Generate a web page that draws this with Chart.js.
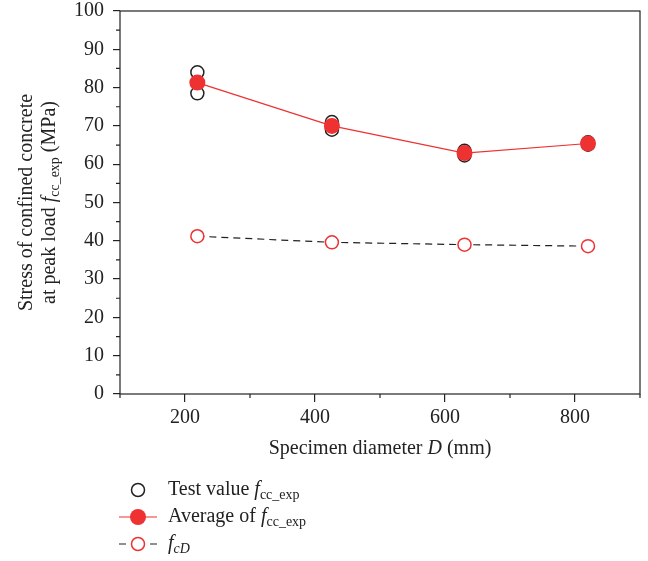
<!DOCTYPE html>
<html>
<head>
<meta charset="utf-8">
<script src="https://cdn.jsdelivr.net/npm/chart.js@4.4.1/dist/chart.umd.min.js"></script>
<style>
  html, body { margin: 0; padding: 0; background: #fff; }
</style>
</head>
<body>
<canvas id="chart" width="648" height="561"></canvas>
<script>
// specimen diameters (mm)
const diameters = [219, 426, 630, 820];
// individual test values, two specimens per diameter
const testHigh = [84.0, 71.0, 63.5, 65.7];
const testLow = [78.5, 69.0, 62.3, 65.1];
// average of test values
const averageValues = [81.3, 70.0, 62.9, 65.4];
// f_cD
const fcdValues = [41.2, 39.6, 39.0, 38.6];
const xLabelValues = [200, 400, 600, 800];

const SERIF = '"Liberation Serif", "Times New Roman", serif';
const RED = '#ee3131';
const INK = '#222222';

const testPoints = [];
diameters.forEach((d, i) => {
    testPoints.push({x: d, y: testHigh[i]});
    testPoints.push({x: d, y: testLow[i]});
});

// draw text made of pieces (normal / italic / subscript)
function drawRich(ctx, parts, x, y, align) {
    let total = 0;
    parts.forEach(p => {
        ctx.font = p.font;
        total += ctx.measureText(p.t).width;
    });
    let cx = align === 'center' ? x - total / 2 : x;
    ctx.textAlign = 'left';
    ctx.textBaseline = 'middle';
    parts.forEach(p => {
        ctx.font = p.font;
        ctx.fillText(p.t, cx, y + (p.dy || 0));
        cx += ctx.measureText(p.t).width;
    });
}

const normal = (t) => ({t: t, font: '20px ' + SERIF});
const ital = (t) => ({t: t, font: 'italic 20px ' + SERIF});
const sub = (t, it) => ({t: t, font: (it ? 'italic ' : '') + '14px ' + SERIF, dy: 5});

const extrasPlugin = {
    id: 'extras',
    afterDraw(chart) {
        const ctx = chart.ctx;
        const area = chart.chartArea;
        const xs = chart.scales.x;
        const ys = chart.scales.y;
        ctx.save();

        // frame
        ctx.strokeStyle = INK;
        ctx.lineWidth = 1.2;
        ctx.strokeRect(area.left, area.top, area.right - area.left, area.bottom - area.top);

        // minor ticks
        ctx.beginPath();
        for (let v = 5; v < 100; v += 10) {
            const py = ys.getPixelForValue(v);
            ctx.moveTo(area.left - 4, py);
            ctx.lineTo(area.left, py);
        }
        for (let v = 100; v <= 900; v += 200) {
            const px = xs.getPixelForValue(v);
            ctx.moveTo(px, area.bottom);
            ctx.lineTo(px, area.bottom + 4);
        }
        ctx.stroke();

        ctx.fillStyle = INK;
        // x title
        drawRich(ctx, [normal('Specimen diameter '), ital('D'), normal(' (mm)')],
            (area.left + area.right) / 2, 449, 'center');

        // y title, two lines rotated
        const midY = (area.top + area.bottom) / 2;
        ctx.save();
        ctx.translate(27, midY);
        ctx.rotate(-Math.PI / 2);
        drawRich(ctx, [normal('Stress of confined concrete')], 0, 0, 'center');
        ctx.restore();
        ctx.save();
        ctx.translate(50, midY);
        ctx.rotate(-Math.PI / 2);
        drawRich(ctx, [normal('at peak load '), ital('f'), sub('cc_exp'), normal(' (MPa)')], 0, 0, 'center');
        ctx.restore();

        // legend
        const mx = 138, tx = 168;
        const rows = [490, 517, 544];
        // row 1: open black circle
        ctx.strokeStyle = INK;
        ctx.lineWidth = 1.5;
        ctx.beginPath();
        ctx.arc(mx, rows[0], 6.5, 0, Math.PI * 2);
        ctx.stroke();
        ctx.fillStyle = INK;
        drawRich(ctx, [normal('Test value '), ital('f'), sub('cc_exp')], tx, rows[0], 'left');
        // row 2: red line + filled circle
        ctx.strokeStyle = RED;
        ctx.lineWidth = 1.2;
        ctx.beginPath();
        ctx.moveTo(119, rows[1]);
        ctx.lineTo(157, rows[1]);
        ctx.stroke();
        ctx.fillStyle = RED;
        ctx.beginPath();
        ctx.arc(mx, rows[1], 8, 0, Math.PI * 2);
        ctx.fill();
        ctx.fillStyle = INK;
        drawRich(ctx, [normal('Average of '), ital('f'), sub('cc_exp')], tx, rows[1], 'left');
        // row 3: dashed line + open red circle
        ctx.strokeStyle = INK;
        ctx.lineWidth = 1.2;
        ctx.beginPath();
        ctx.moveTo(119, rows[2]);
        ctx.lineTo(126, rows[2]);
        ctx.moveTo(150, rows[2]);
        ctx.lineTo(157, rows[2]);
        ctx.stroke();
        ctx.strokeStyle = RED;
        ctx.lineWidth = 1.5;
        ctx.fillStyle = '#fff';
        ctx.beginPath();
        ctx.arc(mx, rows[2], 6.5, 0, Math.PI * 2);
        ctx.fill();
        ctx.stroke();
        ctx.fillStyle = INK;
        drawRich(ctx, [ital('f'), sub('cD', true)], tx, rows[2], 'left');

        ctx.restore();
    }
};

new Chart(document.getElementById('chart'), {
    type: 'scatter',
    data: {
        datasets: [
            {
                label: 'Average',
                type: 'line',
                data: diameters.map((d, i) => ({x: d, y: averageValues[i]})),
                borderColor: RED,
                borderWidth: 1.2,
                backgroundColor: RED,
                pointBackgroundColor: RED,
                pointBorderColor: RED,
                pointRadius: 8,
                pointBorderWidth: 0,
                tension: 0,
                order: 0
            },
            {
                label: 'fcD',
                type: 'line',
                data: diameters.map((d, i) => ({x: d, y: fcdValues[i]})),
                borderColor: INK,
                borderWidth: 1.2,
                borderDash: [7, 5],
                pointBackgroundColor: '#fff',
                pointBorderColor: RED,
                pointBorderWidth: 1.5,
                pointRadius: 6.5,
                tension: 0,
                order: 1
            },
            {
                label: 'Test value',
                data: testPoints,
                pointBackgroundColor: 'rgba(255,255,255,0)',
                pointBorderColor: INK,
                pointBorderWidth: 1.5,
                pointRadius: 6.5,
                order: 2
            }
        ]
    },
    options: {
        responsive: false,
        animation: false,
        layout: {padding: {left: 0, right: 8, top: 11, bottom: 0}},
        plugins: {
            legend: {display: false},
            tooltip: {enabled: false}
        },
        scales: {
            x: {
                type: 'linear',
                min: 100,
                max: 900,
                afterFit: (scale) => {
                    scale.height = 167;
                    scale.paddingLeft = 0;
                    scale.paddingRight = 0;
                },
                border: {display: false},
                grid: {
                    drawOnChartArea: false,
                    tickLength: 8,
                    lineWidth: 1.2,
                    color: (c) => xLabelValues.includes(c.tick && c.tick.value) ? INK : 'rgba(0,0,0,0)'
                },
                ticks: {
                    stepSize: 100,
                    autoSkip: false,
                    maxRotation: 0,
                    padding: 4,
                    color: INK,
                    font: {family: SERIF, size: 20},
                    callback: (v) => xLabelValues.includes(v) ? String(v) : ''
                }
            },
            y: {
                min: 0,
                max: 100,
                afterFit: (scale) => {
                    scale.width = 120;
                    scale.paddingTop = 0;
                    scale.paddingBottom = 0;
                },
                border: {display: false},
                grid: {
                    drawOnChartArea: false,
                    tickLength: 7,
                    lineWidth: 1.2,
                    color: (c) => (c.tick && c.tick.value % 10 === 0) ? INK : 'rgba(0,0,0,0)'
                },
                ticks: {
                    stepSize: 5,
                    autoSkip: false,
                    padding: 9,
                    color: INK,
                    font: {family: SERIF, size: 20},
                    callback: (v) => v % 10 === 0 ? String(v) : ''
                }
            }
        }
    },
    plugins: [extrasPlugin]
});
</script>
</body>
</html>
